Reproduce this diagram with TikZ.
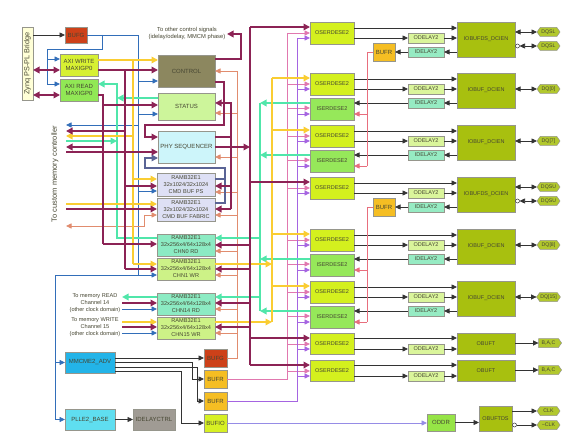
\documentclass[tikz,border=0pt]{standalone}
\usepackage{fontspec}
\setmainfont{Liberation Sans}
\usetikzlibrary{arrows.meta,shapes.symbols}

\definecolor{mar}{RGB}{140,35,85}
\definecolor{yel}{RGB}{250,205,50}
\definecolor{tea}{RGB}{80,230,170}
\definecolor{blu}{RGB}{50,110,185}
\definecolor{sal}{RGB}{225,140,110}
\definecolor{pnk}{RGB}{225,120,175}
\definecolor{pur}{RGB}{165,100,225}
\definecolor{slt}{RGB}{90,100,150}
\definecolor{lav}{RGB}{150,140,230}
\definecolor{rbf}{RGB}{232,110,125}
\definecolor{txt}{RGB}{70,70,50}
\definecolor{bord}{RGB}{150,150,140}
\definecolor{czyn}{RGB}{255,255,215}
\definecolor{cbufg}{RGB}{205,65,25}
\definecolor{caxw}{RGB}{215,240,50}
\definecolor{caxr}{RGB}{145,232,85}
\definecolor{cctl}{RGB}{140,135,95}
\definecolor{csts}{RGB}{205,245,155}
\definecolor{cphy}{RGB}{205,245,250}
\definecolor{ccmd}{RGB}{222,224,245}
\definecolor{crd}{RGB}{140,235,195}
\definecolor{cwr}{RGB}{205,242,135}
\definecolor{cmmcm}{RGB}{35,180,232}
\definecolor{cpll}{RGB}{95,222,240}
\definecolor{cidc}{RGB}{160,155,148}
\definecolor{cbufr}{RGB}{245,190,35}
\definecolor{cbufio}{RGB}{215,240,35}
\definecolor{coser}{RGB}{212,240,30}
\definecolor{ciser}{RGB}{150,232,90}
\definecolor{codel}{RGB}{218,245,155}
\definecolor{cidel}{RGB}{150,235,195}
\definecolor{ciob}{RGB}{168,192,15}
\definecolor{cpad}{RGB}{178,200,45}
\definecolor{coddr}{RGB}{150,228,70}

\tikzset{
 bx/.style={draw=bord, line width=0.5pt, inner sep=0pt, outer sep=0pt, align=center, text=txt, font=\fontsize{6}{7}\selectfont},
 rmf/.style={font=\fontsize{5.6}{7}\selectfont},
 smf/.style={font=\fontsize{5.5}{6.5}\selectfont},
 fzyn/.style={bx, fill=czyn},
 fbufg/.style={bx, fill=cbufg},
 faxw/.style={bx, fill=caxw},
 faxr/.style={bx, fill=caxr},
 fctl/.style={bx, fill=cctl},
 fsts/.style={bx, fill=csts},
 fphy/.style={bx, fill=cphy},
 fcmd/.style={bx, rmf, fill=ccmd},
 frd/.style={bx, rmf, fill=crd},
 fwr/.style={bx, rmf, fill=cwr},
 fmmcm/.style={bx, fill=cmmcm},
 fpll/.style={bx, fill=cpll},
 fidc/.style={bx, fill=cidc},
 fbufr/.style={bx, fill=cbufr},
 fbufio/.style={bx, fill=cbufio},
 foser/.style={bx, smf, fill=coser},
 fiser/.style={bx, smf, fill=ciser},
 fodel/.style={bx, smf, fill=codel},
 fidel/.style={bx, smf, fill=cidel},
 fiob/.style={bx, smf, fill=ciob},
 foddr/.style={bx, fill=coddr},
 pad/.style={signal, signal pointer angle=110, draw=bord, fill=cpad, line width=0.5pt, minimum width=23pt, minimum height=9pt, inner sep=0.5pt, outer sep=0pt, font=\fontsize{5.2}{6}\selectfont, text=txt},
 bub/.style={circle, draw=black!80, fill=white, line width=0.5pt, minimum size=4pt, inner sep=0pt, outer sep=0pt},
 ann/.style={align=center, text=txt, inner sep=1.5pt, font=\fontsize{5.6}{7}\selectfont},
 ar/.style={-{Triangle[length=5.5pt,width=5pt]}},
 arL/.style={-{Triangle[length=6.5pt,width=6.5pt]}},
 bi/.style={{Triangle[length=5.5pt,width=5pt]}-{Triangle[length=5.5pt,width=5pt]}},
 biL/.style={{Triangle[length=6.5pt,width=6.5pt]}-{Triangle[length=6.5pt,width=6.5pt]}},
 wm/.style={draw=mar, line width=1.8pt},
 wy/.style={draw=yel, line width=1.8pt},
 wt/.style={draw=tea, line width=1.8pt},
 wb/.style={draw=blu, line width=0.8pt},
 ws/.style={draw=sal, line width=0.8pt},
 wp/.style={draw=pnk, line width=0.8pt},
 wu/.style={draw=pur, line width=0.8pt},
 wl/.style={draw=slt, line width=1.5pt},
 wk/.style={draw=black!80, line width=0.7pt},
 wv/.style={draw=lav, line width=0.8pt},
 wr/.style={draw=rbf, line width=0.8pt},
}

\newcommand\blk[7]{\node[#6, minimum width={((#4)-(#2))*1pt}, minimum height={((#5)-(#3))*1pt}] (#1) at ({((#2)+(#4))/2},{((#3)+(#5))/2}) {#7};}

\newcommand\dqrow[3]{%
 \blk{o#1}{310}{#2}{354}{#2+22}{foser}{OSERDESE2}
 \blk{i#1}{310}{#2+25}{354}{#2+47}{fiser}{ISERDESE2}
 \blk{od#1}{408}{#2+11}{444}{#2+21}{fodel}{ODELAY2}
 \blk{id#1}{408}{#2+25}{444}{#2+35}{fidel}{IDELAY2}
 \blk{b#1}{457}{#2}{515}{#2+35}{fiob}{IOBUF\_DCIEN}
 \node[pad, signal to=east and west] (p#1) at (548.5,{#2+16}) {#3};
 \draw[wk,ar] (o#1.east|-0,{#2+6}) -- (b#1.west|-0,{#2+6});
 \draw[wk,ar] (o#1.east|-od#1.west) -- (od#1.west);
 \draw[wk,ar] (od#1.east) -- (b#1.west|-od#1.east);
 \draw[wk,ar] (b#1.west|-id#1.east) -- (id#1.east);
 \draw[wk,ar] (id#1.west) -- (i#1.east|-id#1.west);
 \draw[wk,bi] (b#1.east|-p#1.west) -- (p#1.west);
}

\newcommand\dqsrow[4]{%
 \blk{o#1}{310}{#2}{354}{#2+22}{foser}{OSERDESE2}
 \blk{od#1}{408}{#2+11}{444}{#2+21}{fodel}{ODELAY2}
 \blk{id#1}{408}{#2+25}{444}{#2+35}{fidel}{IDELAY2}
 \blk{b#1}{457}{#2}{515}{#2+35}{fiob}{IOBUFDS\_DCIEN}
 \blk{r#1}{373}{#2+21}{395}{#2+39}{fbufr}{BUFR}
 \node[pad, signal to=east and west] (p#1) at (548.5,{#2+10}) {#3};
 \node[pad, signal to=east and west] (q#1) at (548.5,{#2+24}) {#4};
 \node[bub] (u#1) at (517.5,{#2+24}) {};
 \draw[wk,ar] (o#1.east|-0,{#2+6}) -- (b#1.west|-0,{#2+6});
 \draw[wk,ar] (o#1.east|-od#1.west) -- (od#1.west);
 \draw[wk,ar] (od#1.east) -- (b#1.west|-od#1.east);
 \draw[wk,ar] (b#1.west|-id#1.east) -- (id#1.east);
 \draw[wk,ar] (id#1.west) -- (r#1.east|-id#1.west);
 \draw[wk,bi] (b#1.east|-p#1.west) -- (p#1.west);
 \draw[wk,bi] (u#1.east) -- (q#1.west);
}

\newcommand\outrow[2]{%
 \blk{o#1}{310}{#2}{354}{#2+21}{foser}{OSERDESE2}
 \blk{od#1}{408}{#2+11}{444}{#2+21}{fodel}{ODELAY2}
 \blk{b#1}{457}{#2}{515}{#2+21}{fiob}{OBUFT}
 \node[pad, signal to=east] (p#1) at (548.5,{#2+10}) {B,A,C};
 \draw[wk,ar] (o#1.east|-0,{#2+5}) -- (b#1.west|-0,{#2+5});
 \draw[wk,ar] (o#1.east|-od#1.west) -- (od#1.west);
 \draw[wk,ar] (od#1.east) -- (b#1.west|-od#1.east);
 \draw[wk,ar] (b#1.east|-p#1.west) -- (p#1.west);
}

\begin{document}
\begin{tikzpicture}[x=1pt,y=-1pt]
\useasboundingbox (0,0) rectangle (578,446);
\fill[white] (0,0) rectangle (578,446);

% ---------- left blocks ----------
\blk{zynq}{22}{27}{33}{100}{fzyn}{\rotatebox{90}{\fontsize{7.3}{8}\selectfont Zynq PS-PL Bridge}}
\blk{bufgA}{65}{27}{87}{43}{fbufg}{BUFG}
\blk{axiw}{60}{54}{98}{76}{faxw}{AXI WRITE\\MAXIGP0}
\blk{axir}{60}{79}{98}{101}{faxr}{AXI READ\\MAXIGP0}
\blk{ctl}{158}{55}{215}{87}{fctl}{CONTROL}
\blk{sts}{158}{93}{215}{120}{fsts}{STATUS}
\blk{phy}{158}{131}{215}{163}{fphy}{PHY SEQUENCER}
\blk{cps}{157}{173}{215}{196}{fcmd}{RAMB32E1\\32x1024/32x1024\\CMD BUF PS}
\blk{cfb}{157}{198}{215}{221}{fcmd}{RAMB32E1\\32x1024/32x1024\\CMD BUF FABRIC}
\blk{c0}{157}{234}{215}{256}{frd}{RAMB32E1\\32x256x4/64x128x4\\CHN0 RD}
\blk{c1}{157}{258}{215}{280}{fwr}{RAMB32E1\\32x256x4/64x128x4\\CHN1 WR}
\blk{c14}{157}{293}{215}{315}{frd}{RAMB32E1\\32x256x4/64x128x4\\CHN14 RD}
\blk{c15}{157}{317}{215}{339}{fwr}{RAMB32E1\\32x256x4/64x128x4\\CHN15 WR}
\blk{mmcm}{65}{352}{115}{373}{fmmcm}{MMCME2\_ADV}
\blk{pll}{65}{409}{115}{430}{fpll}{PLLE2\_BASE}
\blk{idc}{133}{409}{175}{430}{fidc}{IDELAYCTRL}
\blk{bufgB}{204}{349}{227}{367}{fbufg}{BUFG}
\blk{bufr1}{204}{370}{227}{388}{fbufr}{BUFR}
\blk{bufr2}{204}{392}{227}{410}{fbufr}{BUFR}
\blk{bufio}{204}{414}{227}{432}{fbufio}{BUFIO}

\node[ann, anchor=east, font=\fontsize{5.8}{7}\selectfont] (toc) at (227,34) {To other control signals\\(idelay/odelay, MMCM phase)};
\node[ann, rotate=90, font=\fontsize{7.5}{8}\selectfont] (tcm) at (55,174) {To custom memory controller};
\node[ann] (trd) at (95,303) {To memory READ\\Channel 14\\(other clock domain)};
\node[ann] (twr) at (95,327) {To memory WRITE\\Channel 15\\(other clock domain)};

% ---------- right rows ----------
\dqsrow{1}{22}{DQSL}{DQSL}
\dqrow{2}{73}{DQ[0]}
\dqrow{3}{125}{DQ[7]}
\dqsrow{4}{177}{DQSU}{DQSU}
\dqrow{5}{229}{DQ[8]}
\dqrow{6}{281}{DQ[15]}
\outrow{7}{333}
\outrow{8}{360}

\blk{oddr}{427}{414}{455}{431}{foddr}{ODDR}
\blk{obt}{479}{406}{512}{431}{fiob}{OBUFTDS}
\node[pad, signal to=east and west] (clk) at (548.5,411) {CLK};
\node[pad, signal to=east and west] (nclk) at (548.5,425) {\textasciitilde CLK};
\node[bub] (ub) at (514.5,425) {};
\draw[wk,ar] (oddr.east) -- (obt.west|-oddr.east);
\draw[wk,ar] (obt.east|-clk.west) -- (clk.west);
\draw[wk,ar] (ub.east) -- (nclk.west);

% ---------- bus coordinates ----------
\coordinate (xA) at (47,0);
\coordinate (xB) at (102,0);
\coordinate (xbk) at (55,0);
\coordinate (xcm) at (66,0);
\coordinate (xmr) at (103,0);
\coordinate (xtl) at (117,0);
\coordinate (xml) at (125,0);
\coordinate (xyl) at (133,0);
\coordinate (xbl) at (138,0);
\coordinate (xsf) at (144,0);
\coordinate (xlp) at (145,0);
\coordinate (xlo) at (224,0);
\coordinate (xsl) at (225,0);
\coordinate (xm2) at (231,0);
\coordinate (xs) at (237,0);
\coordinate (xco) at (241,0);
\coordinate (mB) at (250,0);
\coordinate (tB) at (260,0);
\coordinate (yB) at (272,0);
\coordinate (pB) at (287,0);
\coordinate (uB) at (297,0);
\coordinate (rx) at (367,0);
\coordinate (xk1) at (192,0);
\coordinate (xk2) at (197,0);
\coordinate (xk3) at (181,0);

% ---------- thin clock lines ----------
\draw[wk,ar] (zynq.east|-bufgA.west) -- (bufgA.west);
\draw[wb] (bufgA.east) -- (xbl|-bufgA.east) -- (xbl|-0,275) -- (xbk|-0,275) -- (xbk|-pll.west);
\draw[wb] (xB|-bufgA.east) -- (xB|-0,49) -- (xA|-0,49) -- (xA|-0,84);
\draw[wb,ar] (xA|-0,59) -- (axiw.west|-0,59);
\draw[wb,ar] (xA|-0,84) -- (axir.west|-0,84);
\draw[wb,ar] (xbl|-0,81) -- (ctl.west|-0,81);
\draw[wb,ar] (xbl|-0,114) -- (sts.west|-0,114);
\draw[wb,ar] (xbl|-0,125) -- (xcm|-0,125);
\draw[wb,ar] (xbl|-0,191) -- (cps.west|-0,191);
\draw[wb,ar] (xbl|-0,275) -- (c1.west|-0,275);
\draw[wb,ar] (xbk|-mmcm.west) -- (mmcm.west);
\draw[wb,ar] (xbk|-pll.west) -- (pll.west);
\draw[wb,ar] (trd.east|-0,309) -- (c14.west|-0,309);
\draw[wb,ar] (twr.east|-0,333) -- (c15.west|-0,333);

\draw[ws] (bufgB.east) -- (xs|-bufgB.east) -- (xs|-0,71);
\foreach \y/\n in {71/ctl,113/sts,157/phy,192/cps,215/cfb,251/c0,275/c1,309/c14,333/c15}
  \draw[ws,ar] (xs|-0,\y) -- (\n.east|-0,\y);
\draw[ws,ar] (xsf|-0,215) -- (cfb.west|-0,215);
\draw[ws,ar] (xsf|-0,215) -- (xsf|-0,226) -- (xcm|-0,226);

\draw[wk,ar] (mmcm.east|-bufgB.west) -- (bufgB.west);
\draw[wk,ar] (mmcm.east|-0,362) -- (xk1|-0,362) |- (bufr1.west);
\draw[wk,ar] (mmcm.east|-0,367) -- (xk2|-0,367) |- (bufr2.west);
\draw[wk,ar] (mmcm.east|-0,371) -- (xk3|-0,371) |- (bufio.west);
\draw[wk,ar] (pll.east) -- (idc.west);
\draw[wv,ar] (bufio.east) -- (oddr.west|-bufio.east);

\draw[wp] (pB|-0,33) -- (pB|-bufr1.east) -- (bufr1.east);
\foreach \y/\n in {33/1,84/2,136/3,188/4,240/5,292/6,344/7,371/8}
  \draw[wp,ar] (pB|-0,\y) -- (o\n.west|-0,\y);
\foreach \y/\n in {108/2,160/3,264/5,316/6}
  \draw[wp,ar] (pB|-0,\y) -- (i\n.west|-0,\y);
\draw[wu] (uB|-0,38) -- (uB|-bufr2.east) -- (bufr2.east);
\foreach \y/\n in {38/1,89/2,141/3,193/4,245/5,297/6,349/7,376/8}
  \draw[wu,ar] (uB|-0,\y) -- (o\n.west|-0,\y);
\foreach \y/\n in {114/2,166/3,270/5,322/6}
  \draw[wu,ar] (uB|-0,\y) -- (i\n.west|-0,\y);

\draw[wr] (r1.west) -- (rx|-r1.west) -- (rx|-0,166);
\draw[wr,ar] (rx|-0,114) -- (i2.east|-0,114);
\draw[wr,ar] (rx|-0,166) -- (i3.east|-0,166);
\draw[wr] (r4.west) -- (rx|-r4.west) -- (rx|-0,322);
\draw[wr,ar] (rx|-0,270) -- (i5.east|-0,270);
\draw[wr,ar] (rx|-0,322) -- (i6.east|-0,322);

% ---------- slate ----------
\draw[wl] (cps.east|-0,179) -- (xsl|-0,179);
\draw[wl,arL] (cfb.east|-0,203) -- (xsl|-0,203) -- (xsl|-0,168) -- (xlp|-0,168) -- (xlp|-0,158) -- (phy.west|-0,158);

% ---------- teal ----------
\draw[wt,arL] (c0.west|-0,238) -- (xtl|-0,238) -- (xtl|-0,84) -- (axir.east|-0,84);
\draw[wt,arL] (sts.west|-0,98) -- (xtl|-0,98);
\draw[wt,arL] (xcm|-0,141) -- (xtl|-0,141);
\draw[wt] (tB|-0,103) -- (tB|-0,311);
\foreach \y/\n in {103/2,155/3,259/5,311/6}
  \draw[wt,arL] (i\n.west|-0,\y) -- (tB|-0,\y);
\draw[wt,arL] (tB|-0,238) -- (c0.east|-0,238);
\draw[wt,arL] (tB|-0,297) -- (c14.east|-0,297);
\draw[wt,arL] (c14.west|-0,297) -- (trd.east|-0,297);

% ---------- yellow ----------
\draw[wy,arL] (axiw.east|-0,60) -- (ctl.west|-0,60);
\draw[wy] (xyl|-0,60) -- (xyl|-0,264);
\draw[wy,arL] (xyl|-0,264) -- (c1.west|-0,264);
\draw[wy,arL] (xyl|-0,136) -- (xcm|-0,136);
\draw[wy,arL] (xyl|-0,179) -- (cps.west|-0,179);
\draw[wy,arL] (xcm|-0,204) -- (cfb.west|-0,204);
\draw[wy,arL] (twr.east|-0,322) -- (c15.west|-0,322);
\draw[wy] (yB|-0,78) -- (yB|-0,322);
\foreach \y/\n in {78/2,130/3,234/5,286/6}
  \draw[wy,arL] (yB|-0,\y) -- (o\n.west|-0,\y);
\draw[wy,arL] (c1.east|-0,264) -- (yB|-0,264);
\draw[wy,arL] (c15.east|-0,322) -- (yB|-0,322);

% ---------- maroon ----------
\draw[wm,biL] (zynq.east|-0,70) -- (axiw.west|-0,70);
\draw[wm,biL] (zynq.east|-0,95) -- (axir.west|-0,95);
\draw[wm,arL] (axiw.east|-0,70) -- (ctl.west|-0,70);
\draw[wm] (xml|-0,70) -- (xml|-0,269);
\draw[wm,arL] (xml|-0,269) -- (c1.west|-0,269);
\draw[wm,arL] (xml|-0,131) -- (xcm|-0,131);
\draw[wm,arL] (xml|-0,186) -- (cps.west|-0,186);
\draw[wm] (axir.east|-0,95) -- (xmr|-0,95) -- (xmr|-0,244);
\draw[wm,arL] (xmr|-0,244) -- (c0.west|-0,244);
\draw[wm,arL] (xmr|-0,105) -- (sts.west|-0,105);
\draw[wm,arL] (xmr|-0,147) -- (xcm|-0,147);
\draw[wm,arL] (xcm|-0,152) -- (phy.west|-0,152);
\draw[wm,arL] (xcm|-0,209) -- (cfb.west|-0,209);
\draw[wm,arL] (trd.east|-0,303) -- (c14.west|-0,303);
\draw[wm,arL] (twr.east|-0,327) -- (c15.west|-0,327);

\draw[wm,arL] (ctl.east|-0,59) -- (xco|-0,59) -- (xco|-toc.east) -- (toc.east);
\draw[wm,arL] (ctl.east|-0,82) -- (xlo|-0,82) -- (xlo|-0,125) -- (xlp|-0,125) -- (xlp|-0,137) -- (phy.west|-0,137);
\draw[wm,arL] (phy.east|-0,137) -- (xm2|-0,137) -- (xm2|-0,103) -- (sts.east|-0,103);
\draw[wm] (xm2|-0,137) -- (xm2|-0,209);
\draw[wm,arL] (xm2|-0,186) -- (cps.east|-0,186);
\draw[wm,arL] (xm2|-0,209) -- (cfb.east|-0,209);
\draw[wm,arL] (phy.east|-0,147) -- (mB|-0,147);
\draw[wm] (mB|-0,27) -- (mB|-0,365);
\foreach \y/\n in {27/1,182/4,338/7,365/8}
  \draw[wm,arL] (mB|-0,\y) -- (o\n.west|-0,\y);
\foreach \y/\n in {245/c0,269/c1,303/c14,327/c15}
  \draw[wm,arL] (mB|-0,\y) -- (\n.east|-0,\y);

\end{tikzpicture}
\end{document}
